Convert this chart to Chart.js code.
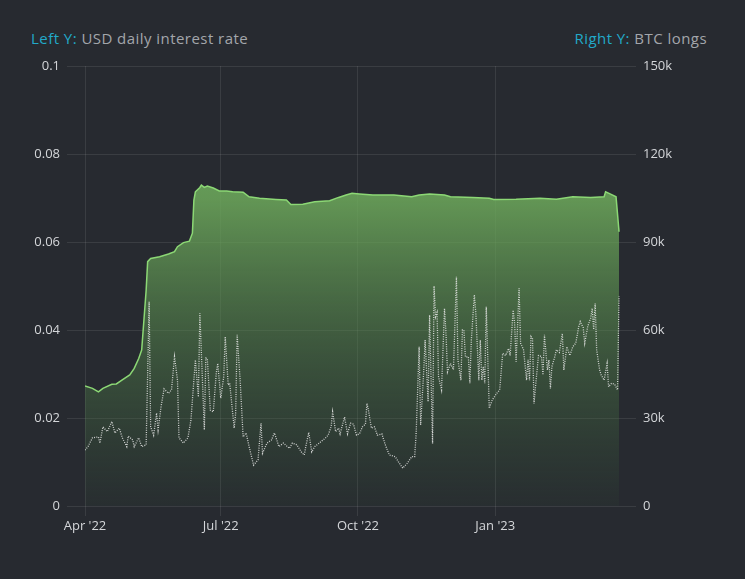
<!DOCTYPE html>
<html lang="en">
<head>
  <meta charset="UTF-8">
  <title>USD daily interest rate vs BTC longs</title>
  <style>
    body { margin: 0; background: #272a30; }
    .wrap { position: relative; width: 745px; height: 579px; font-family: "Open Sans", sans-serif; }
    .axis-title { position: absolute; top: 28px; font-size: 15px; letter-spacing: 0.45px; color: #a3a6ab; white-space: nowrap; }
    .axis-title b { font-weight: normal; color: #22a9c9; }
    #left-title { left: 31px; }
    #right-title { right: 38px; }
    canvas { position: absolute; left: 0; top: 0; }
  </style>
</head>
<body>
  <div class="wrap">
    <div class="axis-title" id="left-title"><b>Left Y:</b> USD daily interest rate</div>
    <div class="axis-title" id="right-title"><b>Right Y:</b> BTC longs</div>
    <canvas id="chart" width="745" height="579"></canvas>
  </div>

  <script src="https://cdn.jsdelivr.net/npm/chart.js"></script>
  <script>
    // days are counted from 2022-04-01
    const tickDays = [0, 91, 183, 275];
    const tickLabels = ["Apr '22", "Jul '22", "Oct '22", "Jan '23"];

    // USD daily interest rate (left axis)
    const rateDays = [0, 2, 5, 9, 10, 12, 15, 18, 20, 23, 25, 28, 29, 32, 33, 36, 38, 41, 43, 44,
      46, 48, 49, 51, 53, 56, 58, 60, 62, 63, 66, 69, 71, 74, 76, 77, 80, 81, 82, 84,
      86, 88, 89, 91, 93, 94, 96, 97, 100, 101, 102, 104, 106, 108, 110, 113, 116, 118, 119, 122,
      125, 127, 130, 133, 137, 139, 142, 145, 147, 148, 150, 152, 154, 157, 161, 163, 165, 166, 168, 170,
      171, 174, 176, 178, 180, 182, 184, 186, 188, 189, 190, 192, 194, 196, 199, 201, 204, 208, 210, 213,
      216, 219, 221, 222, 224, 225, 227, 228, 230, 231, 233, 234, 235, 236, 237, 239, 241, 242, 243, 245,
      247, 249, 250, 252, 253, 254, 255, 257, 258, 259, 261, 262, 264, 265, 266, 267, 268, 269, 271, 273,
      276, 278, 280, 282, 284, 285, 287, 288, 289, 291, 292, 294, 296, 297, 298, 299, 300, 301, 302, 304,
      306, 307, 308, 310, 311, 312, 313, 315, 316, 318, 320, 321, 323, 325, 327, 329, 331, 332, 334, 335,
      337, 339, 340, 341, 342, 343, 345, 346, 348, 350, 351, 353, 355, 357, 358];
    const rateValues = [0.0127, 0.0135, 0.0155, 0.0157, 0.0143, 0.018, 0.0169, 0.0192, 0.0166, 0.0177, 0.0155, 0.0135, 0.0159, 0.015, 0.0135, 0.0155, 0.0135, 0.0139, 0.0464, 0.018,
      0.0161, 0.0211, 0.0173, 0.0226, 0.0266, 0.0256, 0.0264, 0.0339, 0.0286, 0.0155, 0.0143, 0.0155, 0.0195, 0.0332, 0.0248, 0.0438, 0.0173, 0.0336, 0.0335, 0.0218,
      0.0214, 0.0302, 0.0324, 0.0245, 0.0294, 0.0385, 0.0275, 0.0279, 0.0177, 0.0211, 0.0389, 0.0286, 0.0157, 0.0166, 0.0135, 0.0093, 0.0105, 0.0188, 0.012, 0.0143,
      0.015, 0.0166, 0.0135, 0.0143, 0.0131, 0.0143, 0.0139, 0.0123, 0.0116, 0.0135, 0.0167, 0.0123, 0.0135, 0.0143, 0.0154, 0.0161, 0.018, 0.0214, 0.0169, 0.0177,
      0.0164, 0.0202, 0.0164, 0.0188, 0.0186, 0.0161, 0.0164, 0.018, 0.0186, 0.0233, 0.0218, 0.0177, 0.018, 0.0161, 0.0164, 0.0142, 0.0116, 0.0112, 0.0101, 0.0086,
      0.0097, 0.0112, 0.0112, 0.0165, 0.0362, 0.0184, 0.0302, 0.0377, 0.0237, 0.0434, 0.0142, 0.05, 0.043, 0.044, 0.0294, 0.0264, 0.0449, 0.0392, 0.0305, 0.0324,
      0.031, 0.0521, 0.0332, 0.0286, 0.04, 0.04, 0.0339, 0.0339, 0.0279, 0.0377, 0.048, 0.0438, 0.0286, 0.0377, 0.0286, 0.0317, 0.0279, 0.0453, 0.0222, 0.0241,
      0.0256, 0.0264, 0.0347, 0.0342, 0.0358, 0.0342, 0.0445, 0.0415, 0.0328, 0.0495, 0.037, 0.0355, 0.0286, 0.0332, 0.0286, 0.0385, 0.038, 0.0233, 0.0271, 0.0342,
      0.034, 0.0298, 0.0389, 0.0309, 0.0332, 0.0267, 0.0317, 0.034, 0.0355, 0.0349, 0.0392, 0.0309, 0.0362, 0.0342, 0.0362, 0.037, 0.0408, 0.0419, 0.0405, 0.037,
      0.0408, 0.0427, 0.0449, 0.0401, 0.046, 0.0355, 0.0309, 0.0298, 0.0286, 0.0324, 0.0271, 0.0279, 0.0277, 0.0264, 0.0476];

    // BTC longs (right axis)
    const longsDays = [0, 5, 9, 12, 18, 21, 25, 30, 33, 36, 38, 39, 41, 42, 44, 50, 56, 60, 62, 66,
      70, 72, 73, 74, 77, 78, 80, 82, 86, 90, 95, 99, 106, 110, 117, 128, 135, 138, 146, 154,
      164, 170, 175, 179, 184, 193, 207, 219, 224, 231, 241, 245, 260, 271, 274, 289, 305, 316, 327, 339,
      348, 349, 352, 356, 358];
    const longsValues = [40900, 40100, 38900, 40100, 41500, 41600, 43000, 44700, 46900, 50300, 53200, 60000, 73600, 83300, 84400, 85000, 85900, 86700, 88400, 89800,
      90300, 93000, 104300, 107100, 108600, 109400, 108600, 109100, 108400, 107400, 107400, 107100, 107000, 105400, 104900, 104500, 104300, 102800, 102900, 103700,
      104100, 105200, 106000, 106600, 106400, 106000, 106000, 105400, 106000, 106400, 106000, 105400, 105200, 104900, 104500, 104600, 104900, 104600, 105400, 105200,
      105400, 107100, 106400, 105400, 93500];

    const toPoints = (xs, ys) => xs.map((x, i) => ({ x: x, y: ys[i] }));

    const tickColor = '#d4d6d9';
    const gridColor = 'rgba(255,255,255,0.09)';
    const tickFont = { family: 'Open Sans', size: 13 };

    const ctx = document.getElementById('chart').getContext('2d');
    new Chart(ctx, {
      type: 'line',
      data: {
        datasets: [
          {
            label: 'USD daily interest rate',
            data: toPoints(rateDays, rateValues),
            yAxisID: 'yLeft',
            borderColor: 'rgba(235,235,235,0.85)',
            borderWidth: 1.3,
            borderDash: [1, 1.3],
            pointRadius: 0,
            fill: false,
            order: 1
          },
          {
            label: 'BTC longs',
            data: toPoints(longsDays, longsValues),
            yAxisID: 'yRight',
            borderColor: '#8cd875',
            borderWidth: 1.5,
            pointRadius: 0,
            fill: 'origin',
            backgroundColor: (c) => {
              const area = c.chart.chartArea;
              if (!area) return 'rgba(110,170,90,0.5)';
              const g = c.chart.ctx.createLinearGradient(0, area.top, 0, area.bottom);
              g.addColorStop(0, 'rgba(120,185,100,0.95)');
              g.addColorStop(0.3, 'rgba(110,170,92,0.85)');
              g.addColorStop(1, 'rgba(60,100,60,0.08)');
              return g;
            },
            order: 2
          }
        ]
      },
      options: {
        responsive: false,
        animation: false,
        layout: { padding: { top: 66, left: 0, right: 0, bottom: 0 } },
        plugins: {
          legend: { display: false },
          tooltip: { enabled: false }
        },
        scales: {
          x: {
            type: 'linear',
            min: 0,
            max: 362,
            afterBuildTicks: (scale) => { scale.ticks = tickDays.map(v => ({ value: v })); },
            afterFit: (scale) => { scale.height = 73; },
            ticks: {
              color: tickColor,
              font: tickFont,
              padding: 2,
              maxRotation: 0,
              autoSkip: false,
              callback: (v) => tickLabels[tickDays.indexOf(v)]
            },
            grid: { color: gridColor, tickLength: 10 },
            border: { display: false }
          },
          yLeft: {
            position: 'left',
            min: 0,
            max: 0.1,
            afterFit: (scale) => { scale.width = 85; },
            ticks: {
              stepSize: 0.02,
              color: tickColor,
              font: tickFont,
              padding: 7,
              callback: (v) => String(Number(v.toFixed(2)))
            },
            grid: { color: gridColor, tickLength: 18 },
            border: { display: false }
          },
          yRight: {
            position: 'right',
            min: 0,
            max: 150000,
            afterFit: (scale) => { scale.width = 120; },
            ticks: {
              stepSize: 30000,
              color: tickColor,
              font: tickFont,
              padding: 7,
              callback: (v) => v === 0 ? '0' : (v / 1000) + 'k'
            },
            grid: { color: gridColor, tickLength: 11, drawOnChartArea: false },
            border: { display: false }
          }
        }
      }
    });
  </script>
</body>
</html>
